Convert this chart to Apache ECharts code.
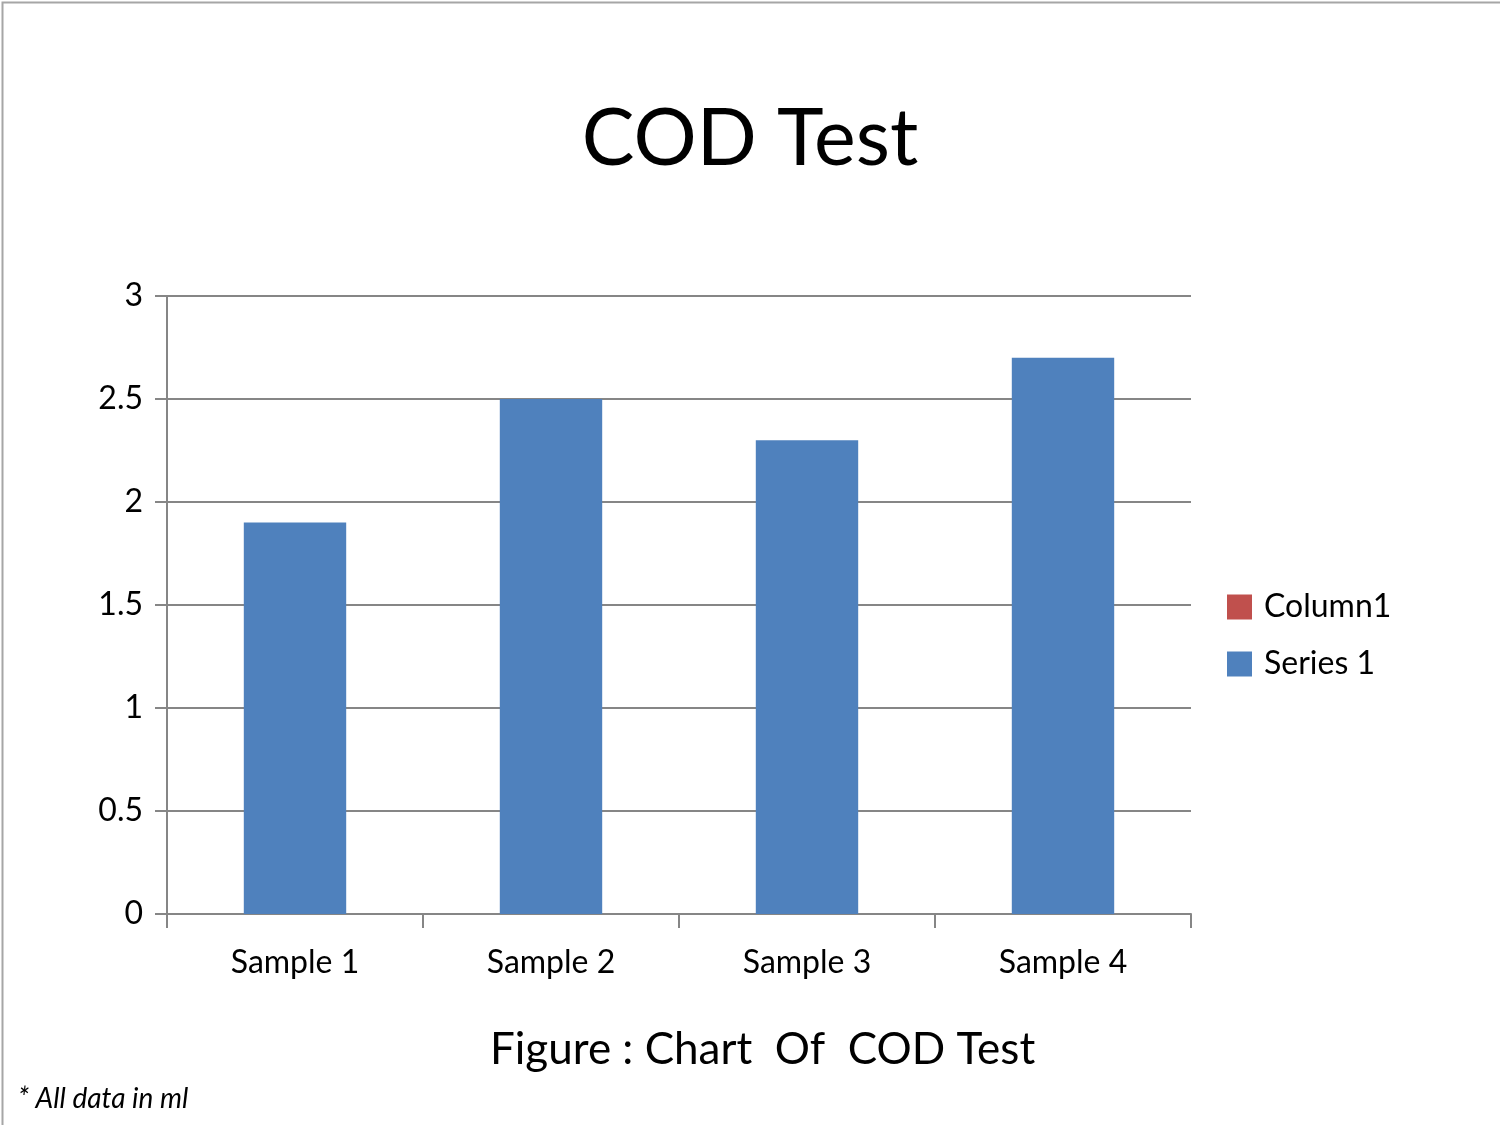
<!DOCTYPE html>
<html>
<head>
<meta charset="utf-8">
<script src="https://cdn.jsdelivr.net/npm/echarts@6/dist/echarts.min.js"></script>
<style>
html,body{margin:0;padding:0;background:#fff;}
#c{width:1500px;height:1125px;}
</style>
</head>
<body>
<div id="c"></div>
<script>
const categories = ['Sample 1', 'Sample 2', 'Sample 3', 'Sample 4'];
const series1Values = [1.9, 2.5, 2.3, 2.7];
const column1Values = [null, null, null, null];
const yTicks = [0, 0.5, 1, 1.5, 2, 2.5, 3];

const FONT = 'Lato, "Noto Sans", sans-serif';
const chart = echarts.init(document.getElementById('c'));
chart.setOption({
  animation: false,
  backgroundColor: '#fff',
  title: {
    text: 'COD Test',
    left: 'center',
    top: 95,
    textStyle: { fontFamily: FONT, fontSize: 79, fontWeight: 'normal', color: '#000' }
  },
  legend: {
    orient: 'vertical',
    left: 1222,
    top: 586,
    itemWidth: 25,
    itemHeight: 25,
    itemGap: 25,
    icon: 'rect',
    data: ['Column1', 'Series 1'],
    textStyle: { fontFamily: FONT, fontSize: 32, color: '#000', padding: [0, 0, 0, 7] }
  },
  grid: { left: 167, right: 309, top: 296, bottom: 211, containLabel: false },
  xAxis: {
    type: 'category',
    data: categories,
    axisLine: { lineStyle: { color: '#868686', width: 2 } },
    axisTick: { show: true, length: 14, lineStyle: { color: '#868686', width: 2 } },
    axisLabel: { fontFamily: FONT, fontSize: 32, color: '#000', margin: 33 }
  },
  yAxis: {
    type: 'value',
    min: yTicks[0],
    max: yTicks[yTicks.length - 1],
    interval: 0.5,
    axisLine: { show: true, lineStyle: { color: '#868686', width: 2 } },
    axisTick: { show: true, length: 12, lineStyle: { color: '#868686', width: 2 } },
    splitLine: { lineStyle: { color: '#868686', width: 2 } },
    axisLabel: { fontFamily: FONT, fontSize: 32, color: '#000', margin: 24 }
  },
  series: [
    {
      name: 'Column1', type: 'bar', data: column1Values,
      itemStyle: { color: '#C0504D' }, barWidth: '40%', barGap: '-100%'
    },
    {
      name: 'Series 1', type: 'bar', data: series1Values,
      itemStyle: { color: '#4F81BD' }, barWidth: '40%', barGap: '-100%'
    }
  ],
  graphic: [
    {
      type: 'rect', left: 0, top: 0, silent: true,
      shape: { x: 0, y: 0, width: 1499, height: 1124 },
      style: { fill: 'none', stroke: '#a6a6a6', lineWidth: 2 }
    },
    {
      type: 'text', left: 490, top: 1028,
      style: { text: 'Figure : Chart  Of  COD Test', font: '44px ' + FONT, fill: '#000' }
    },
    {
      type: 'text', left: 18, top: 1085,
      style: { text: '* All data in ml', font: 'italic 28px ' + FONT, fill: '#000' }
    }
  ]
});
</script>
</body>
</html>
